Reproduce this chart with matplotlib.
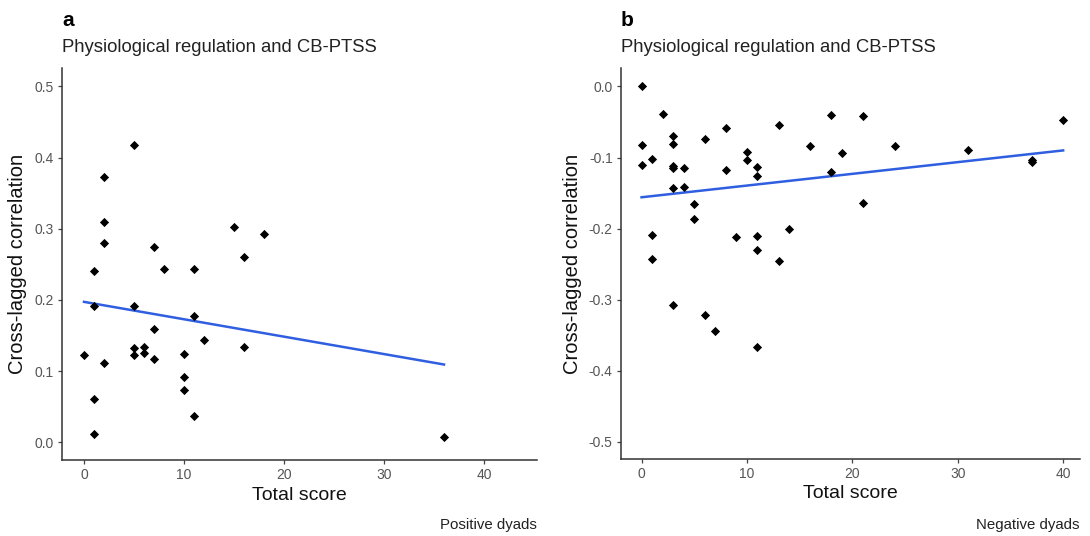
import matplotlib
matplotlib.use('Agg')
import matplotlib.pyplot as plt
import numpy as np

plt.rcParams['font.family'] = ['Liberation Sans', 'DejaVu Sans']

# Panel a: positive dyads
pos_score = [5, 2, 2, 2, 7, 1, 8, 11, 15, 18, 16, 1, 5, 11, 7, 12, 16, 5, 5, 6, 6, 7,
             0, 2, 10, 10, 10, 11, 1, 1, 36]
pos_corr = [0.418, 0.373, 0.310, 0.280, 0.275, 0.240, 0.244, 0.244, 0.302, 0.293, 0.260,
            0.191, 0.191, 0.178, 0.159, 0.144, 0.134, 0.132, 0.122, 0.134, 0.126, 0.117,
            0.122, 0.112, 0.124, 0.092, 0.073, 0.037, 0.061, 0.011, 0.008]

# Panel b: negative dyads
neg_score = [0, 0, 0, 1, 1, 1, 2, 3, 3, 3, 3, 3, 3, 4, 4, 5, 5, 6, 6, 7, 8, 8, 9, 10, 10,
             11, 11, 11, 11, 11, 13, 13, 14, 16, 18, 18, 19, 21, 21, 24, 31, 37, 37, 40]
neg_corr = [0.0, -0.082, -0.111, -0.102, -0.209, -0.242, -0.039, -0.069, -0.081, -0.112,
            -0.114, -0.143, -0.308, -0.115, -0.141, -0.165, -0.187, -0.074, -0.321, -0.344,
            -0.059, -0.117, -0.212, -0.092, -0.104, -0.113, -0.126, -0.210, -0.230, -0.366,
            -0.054, -0.246, -0.201, -0.084, -0.040, -0.120, -0.094, -0.042, -0.164, -0.084,
            -0.090, -0.103, -0.106, -0.047]

x_ticks = [0, 10, 20, 30, 40]
pos_yticks = [0.0, 0.1, 0.2, 0.3, 0.4, 0.5]
neg_yticks = [0.0, -0.1, -0.2, -0.3, -0.4, -0.5]

W, H = 1090, 536
fig = plt.figure(figsize=(W / 100, H / 100), dpi=100)


def px_axes(left, right, top, bottom):
    return fig.add_axes([left / W, 1 - bottom / H, (right - left) / W, (bottom - top) / H])


def style(ax, yticks, ylim, xlim):
    for s in ['top', 'right']:
        ax.spines[s].set_visible(False)
    for s in ['left', 'bottom']:
        ax.spines[s].set_color('#333333')
        ax.spines[s].set_linewidth(1.1)
    ax.set_xticks(x_ticks)
    ax.set_yticks(yticks)
    ax.set_yticklabels([f'{v:.1f}' for v in yticks])
    ax.set_xlim(*xlim)
    ax.set_ylim(*ylim)
    ax.tick_params(colors='#444444', labelcolor='#555555', labelsize=10, length=3, width=0.9, pad=3)
    ax.set_xlabel('Total score', fontsize=14, color='#111111', labelpad=3)
    ax.set_ylabel('Cross-lagged correlation', fontsize=14.5, color='#111111', labelpad=5)


def draw(ax, x, y):
    x = np.array(x, float)
    y = np.array(y, float)
    ax.scatter(x, y, marker='D', s=22, color='black', zorder=3, linewidths=0)
    b, a = np.polyfit(x, y, 1)
    xs = np.array([x.min(), x.max()])
    ax.plot(xs, a + b * xs, color='#2f5fe0', lw=1.8, zorder=2)


ax1 = px_axes(62, 537, 68, 460)
draw(ax1, pos_score, pos_corr)
style(ax1, pos_yticks, (-0.025, 0.526), (-2.2, 45.3))

ax2 = px_axes(621, 1080, 68, 459)
draw(ax2, neg_score, neg_corr)
style(ax2, neg_yticks, (-0.524, 0.026), (-1.95, 41.6))

for ax, tag, note, x0 in [(ax1, 'a', 'Positive dyads', 62), (ax2, 'b', 'Negative dyads', 621)]:
    fig.text(x0 / W, 1 - 20 / H, tag, fontsize=15, fontweight='bold', va='center', ha='left')
    fig.text(x0 / W, 1 - 48 / H, 'Physiological regulation and CB-PTSS', fontsize=13.3,
             color='#222222', va='center', ha='left')
    pos = ax.get_position()
    fig.text(pos.x1, 1 - 525 / H, note, fontsize=10.8, color='#222222', va='center', ha='right')

fig.savefig('out.png', dpi=100)
